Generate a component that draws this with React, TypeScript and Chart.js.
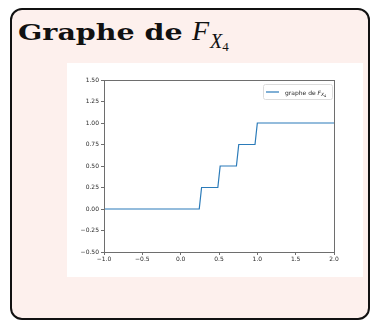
import { useEffect, useRef } from "react";
import { Chart, registerables } from "chart.js";

Chart.register(...registerables);

// Corner points of the step function F_{X4}, sampled on a grid over [-1, 2]
const stepX = [-1, 0.2424, 0.2727, 0.4848, 0.5152, 0.7273, 0.7576, 0.9697, 1.0, 2];
const stepY = [0, 0, 0.25, 0.25, 0.5, 0.5, 0.75, 0.75, 1, 1];

const xTicks = [-1, -0.5, 0, 0.5, 1, 1.5, 2];
const yTicks = [-0.5, -0.25, 0, 0.25, 0.5, 0.75, 1, 1.25, 1.5];

const legendText = "graphe de ";
const lineColor = "#2b7bb9";
const spineColor = "#6e6e6e";
const tickText = "#2a2a2a";

const fmt = (v: number, d: number) => v.toFixed(d).replace("-", "\u2212");

const framePlugin = {
  id: "frame",
  afterDatasetsDraw(chart: any) {
    const { ctx, chartArea: a } = chart;
    ctx.save();
    ctx.strokeStyle = spineColor;
    ctx.lineWidth = 1;
    ctx.strokeRect(Math.round(a.left) + 0.5, Math.round(a.top) + 0.5, Math.round(a.right - a.left), Math.round(a.bottom - a.top));
    ctx.restore();
  },
  afterDraw(chart: any) {
    const { ctx, chartArea: a } = chart;
    const w = 69;
    const h = 15;
    const x0 = a.right - 2 - w;
    const y0 = a.top + 4;
    ctx.save();
    ctx.fillStyle = "#fff";
    ctx.strokeStyle = "#dcdcdc";
    ctx.lineWidth = 1;
    ctx.beginPath();
    ctx.roundRect(x0 + 0.5, y0 + 0.5, w, h, 2);
    ctx.fill();
    ctx.stroke();
    const cy = y0 + h / 2 + 0.5;
    ctx.strokeStyle = lineColor;
    ctx.lineWidth = 1.2;
    ctx.beginPath();
    ctx.moveTo(x0 + 3, cy);
    ctx.lineTo(x0 + 16, cy);
    ctx.stroke();
    ctx.fillStyle = tickText;
    ctx.textBaseline = "alphabetic";
    let tx = x0 + 22;
    const base = cy + 2.5;
    ctx.font = "6px 'DejaVu Sans'";
    ctx.fillText(legendText, tx, base);
    tx += ctx.measureText(legendText).width;
    ctx.font = "italic 6px 'DejaVu Sans'";
    ctx.fillText("F", tx, base);
    tx += ctx.measureText("F").width;
    ctx.font = "italic 4.5px 'DejaVu Sans'";
    ctx.fillText("X", tx, base + 1.2);
    tx += ctx.measureText("X").width;
    ctx.font = "3.5px 'DejaVu Sans'";
    ctx.fillText("4", tx, base + 2);
    ctx.restore();
  },
};

function StepChart() {
  const ref = useRef<HTMLCanvasElement | null>(null);
  useEffect(() => {
    if (!ref.current) return;
    const chart = new Chart(ref.current, {
      type: "scatter",
      data: {
        datasets: [
          {
            label: "F",
            data: stepX.map((x, i) => ({ x, y: stepY[i] })),
            showLine: true,
            borderColor: lineColor,
            borderWidth: 1.2,
            pointRadius: 0,
            fill: false,
          },
        ],
      },
      options: {
        animation: false,
        responsive: false,
        devicePixelRatio: 1,
        layout: { padding: { left: 0, top: 17, right: 29, bottom: 0 } },
        plugins: { legend: { display: false }, tooltip: { enabled: false } },
        scales: {
          x: {
            type: "linear",
            min: -1,
            max: 2,
            afterBuildTicks: (s: any) => {
              s.ticks = xTicks.map((v) => ({ value: v }));
            },
            afterFit: (s: any) => {
              s.height = 25;
            },
            border: { display: false },
            grid: { drawOnChartArea: false, drawTicks: true, tickLength: 3, tickColor: spineColor, color: spineColor },
            ticks: {
              autoSkip: false,
              maxRotation: 0,
              padding: 1,
              color: tickText,
              font: { family: "'DejaVu Sans'", size: 6 },
              callback: (v: any) => fmt(Number(v), 1),
            },
          },
          y: {
            type: "linear",
            min: -0.5,
            max: 1.5,
            afterBuildTicks: (s: any) => {
              s.ticks = yTicks.map((v) => ({ value: v }));
            },
            afterFit: (s: any) => {
              s.width = 37;
            },
            border: { display: false },
            grid: { drawOnChartArea: false, drawTicks: true, tickLength: 3, tickColor: spineColor, color: spineColor },
            ticks: {
              autoSkip: false,
              padding: 2,
              color: tickText,
              font: { family: "'DejaVu Sans'", size: 6 },
              callback: (v: any) => fmt(Number(v), 2),
            },
          },
        },
      },
      plugins: [framePlugin],
    });
    return () => chart.destroy();
  }, []);
  return <canvas ref={ref} width={296} height={214} style={{ display: "block" }} />;
}

export default function App() {
  return (
    <div>
      <div
        style={{
          position: "absolute",
          left: 10,
          top: 8,
          width: 360,
          height: 312,
          boxSizing: "border-box",
          border: "2px solid #111",
          borderRadius: 12,
          background: "#fdf0ed",
        }}
      />
      <div
        style={{
          position: "absolute",
          left: 18,
          top: 16,
          fontFamily: "'DejaVu Serif'",
          fontWeight: "bold",
          fontSize: 23,
          lineHeight: "30px",
          color: "#111",
          whiteSpace: "nowrap",
        }}
      >
        <span
          style={{
            display: "inline-block",
            width: 174,
            transform: "scaleX(1.24)",
            transformOrigin: "left center",
          }}
        >
          Graphe de
        </span>
        <span style={{ fontFamily: "'Liberation Serif'", fontStyle: "italic", fontWeight: "normal", fontSize: 28 }}>F</span>
        <span
          style={{
            fontFamily: "'Liberation Serif'",
            fontStyle: "italic",
            fontWeight: "normal",
            fontSize: 20,
            position: "relative",
            top: 8,
            marginLeft: 1,
          }}
        >
          X
          <span style={{ fontStyle: "normal", fontSize: 13, position: "relative", top: 3 }}>4</span>
        </span>
      </div>
      <div style={{ position: "absolute", left: 67, top: 63, width: 296, height: 214, background: "#fff" }}>
        <StepChart />
      </div>
    </div>
  );
}
